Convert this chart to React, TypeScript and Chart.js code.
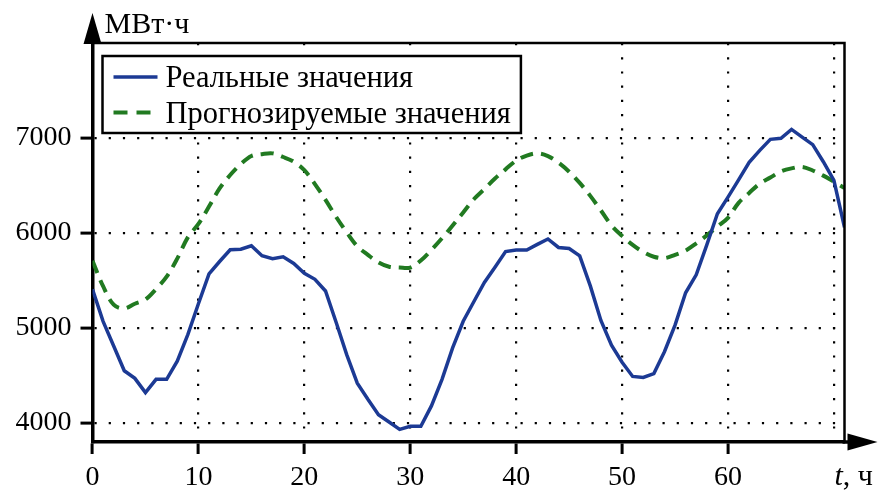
import React, { useEffect, useRef } from "react";
import { Chart, registerables } from "chart.js";

Chart.register(...registerables);

// Hours (x categories)
const hours = [
  0, 1, 2, 3, 4, 5, 6, 7, 8, 9, 10, 11, 12, 13, 14, 15, 16, 17, 18, 19, 20, 21, 22, 23,
  24, 25, 26, 27, 28, 29, 30, 31, 32, 33, 34, 35, 36, 37, 38, 39, 40, 41, 42, 43, 44, 45, 46, 47,
  48, 49, 50, 51, 52, 53, 54, 55, 56, 57, 58, 59, 60, 61, 62, 63, 64, 65, 66, 67, 68, 69, 70, 71,
];

// Real values, MWh
const realValues = [
  5407, 5070, 4810, 4550, 4470, 4320, 4460, 4460, 4650, 4930, 5255, 5570,
  5700, 5823, 5830, 5866, 5760, 5730, 5749, 5680, 5575, 5513, 5390, 5060,
  4720, 4420, 4250, 4088, 4010, 3933, 3965, 3965, 4180, 4460, 4790, 5071,
  5276, 5480, 5640, 5805, 5820, 5820, 5880, 5937, 5848, 5837, 5760, 5443,
  5080, 4820, 4640, 4490, 4480, 4520, 4750, 5030, 5371, 5560, 5875, 6202,
  6378, 6560, 6745, 6870, 6986, 6997, 7090, 7010, 6930, 6750, 6555, 6060,
];

// Forecast values, MWh
const forecastValues = [
  5707, 5440, 5245, 5205, 5255, 5300, 5410, 5540, 5730, 5954, 6095, 6278,
  6470, 6610, 6725, 6810, 6830, 6838, 6800, 6750, 6661, 6515, 6348, 6170,
  6007, 5860, 5770, 5690, 5645, 5636, 5636, 5710, 5822, 5945, 6078, 6216,
  6355, 6463, 6573, 6670, 6762, 6815, 6838, 6810, 6740, 6645, 6527, 6391,
  6237, 6080, 5970, 5875, 5800, 5750, 5735, 5770, 5815, 5890, 5975, 6068,
  6160, 6317, 6422, 6520, 6584, 6648, 6680, 6696, 6658, 6604, 6540, 6474,
];

const xTicks = [0, 10, 20, 30, 40, 50, 60, 70];
const yTicks = [4000, 5000, 6000, 7000];

const seriesLabels = ["Реальные значения", "Прогнозируемые значения"];
const yTitle = "МВт·ч";
const xTitleItalic = "t";
const xTitleRest = ", ч";

const FONT = "Liberation Serif";

const decorPlugin = {
  id: "decor",
  afterDraw(chart: any) {
    const { ctx, chartArea } = chart;
    const { left, right, top, bottom } = chartArea;
    ctx.save();
    ctx.setLineDash([]);
    // frame (top & right)
    ctx.strokeStyle = "#000";
    ctx.lineWidth = 2.5;
    ctx.beginPath();
    ctx.moveTo(left, top);
    ctx.lineTo(right, top);
    ctx.lineTo(right, bottom);
    ctx.stroke();

    // y arrow
    ctx.fillStyle = "#000";
    ctx.beginPath();
    ctx.moveTo(left - 9, top + 1);
    ctx.lineTo(left + 9, top + 1);
    ctx.lineTo(left, top - 30);
    ctx.closePath();
    ctx.fill();

    // x axis extension + arrow
    ctx.lineWidth = 3.5;
    ctx.beginPath();
    ctx.moveTo(right - 2, bottom);
    ctx.lineTo(right + 5, bottom);
    ctx.stroke();
    ctx.beginPath();
    ctx.moveTo(right + 3, bottom - 8.5);
    ctx.lineTo(right + 3, bottom + 8.5);
    ctx.lineTo(right + 33, bottom);
    ctx.closePath();
    ctx.fill();

    // axis titles
    ctx.textAlign = "left";
    ctx.textBaseline = "alphabetic";
    ctx.font = `30px "${FONT}"`;
    ctx.fillText(yTitle, left + 12, 33);

    ctx.font = `italic 30px "${FONT}"`;
    const tx = right - 10;
    ctx.fillText(xTitleItalic, tx, 485);
    const tw = ctx.measureText(xTitleItalic).width;
    ctx.font = `30px "${FONT}"`;
    ctx.fillText(xTitleRest, tx + tw, 485);

    // legend box
    const ds = chart.data.datasets;
    const x0 = left + 10;
    const y0 = top + 13;
    ctx.font = `30.5px "${FONT}"`;
    const textX = x0 + 63;
    let maxW = 0;
    ds.forEach((d: any) => {
      maxW = Math.max(maxW, ctx.measureText(d.label).width);
    });
    const w = textX - x0 + maxW + 10;
    const h = 77;
    ctx.fillStyle = "#fff";
    ctx.fillRect(x0, y0, w, h);
    ctx.lineWidth = 2.5;
    ctx.strokeStyle = "#000";
    ctx.strokeRect(x0, y0, w, h);
    ds.forEach((d: any, i: number) => {
      const cy = y0 + 21 + i * 35.5;
      ctx.strokeStyle = d.borderColor;
      ctx.lineWidth = d.borderWidth;
      ctx.setLineDash(d.borderDash && d.borderDash.length ? [14, 9] : []);
      ctx.beginPath();
      ctx.moveTo(x0 + 11, cy);
      ctx.lineTo(x0 + 55, cy);
      ctx.stroke();
      ctx.setLineDash([]);
      ctx.fillStyle = "#000";
      ctx.fillText(d.label, textX, cy + 10);
    });
    ctx.restore();
  },
};

function buildChart(canvas: HTMLCanvasElement) {
  return new Chart(canvas, {
    type: "line",
    data: {
      labels: hours,
      datasets: [
        {
          label: seriesLabels[0],
          data: hours.map((h, i) => ({ x: h, y: realValues[i] })),
          borderColor: "#1c3a94",
          borderWidth: 3.5,
          pointRadius: 0,
          tension: 0,
          fill: false,
        },
        {
          label: seriesLabels[1],
          data: hours.map((h, i) => ({ x: h, y: forecastValues[i] })),
          borderColor: "#217a21",
          borderWidth: 4,
          borderDash: [13, 8],
          pointRadius: 0,
          tension: 0.35,
          fill: false,
        },
      ],
    },
    plugins: [decorPlugin],
    options: {
      animation: false,
      responsive: false,
      devicePixelRatio: 1,
      layout: { padding: { top: 43, right: 34.5, left: 0, bottom: 0 } },
      plugins: {
        legend: { display: false },
        tooltip: { enabled: false },
        title: { display: false },
      },
      scales: {
        x: {
          type: "linear",
          min: 0,
          max: 71,
          afterBuildTicks: (s: any) => {
            s.ticks = xTicks.map((v) => ({ value: v }));
          },
          afterFit: (s: any) => {
            s.height = 51;
          },
          ticks: {
            color: "#000",
            font: { family: FONT, size: 28 },
            padding: 7,
            maxRotation: 0,
            autoSkip: false,
            callback: (v: any) => (v === 70 ? "" : String(v)),
          },
          grid: {
            color: (c: any) => (c.tick && c.tick.value === 0 ? "rgba(0,0,0,0)" : "#000"),
            lineWidth: 2.2,
            tickLength: 12,
            tickWidth: 3,
            tickColor: (c: any) => (c.tick && c.tick.value === 70 ? "rgba(0,0,0,0)" : "#000"),
            tickBorderDash: [],
          },
          border: { display: true, color: "#000", width: 3.5, dash: [2.2, 12] },
        },
        y: {
          type: "linear",
          min: 3800,
          max: 8000,
          afterBuildTicks: (s: any) => {
            s.ticks = yTicks.map((v) => ({ value: v }));
          },
          afterFit: (s: any) => {
            s.width = 92.5;
          },
          ticks: {
            color: "#000",
            font: { family: FONT, size: 28 },
            padding: 9,
            callback: (v: any) => String(v),
          },
          grid: {
            color: "#000",
            lineWidth: 2.2,
            tickLength: 12,
            tickWidth: 3,
            tickColor: "#000",
            tickBorderDash: [],
          },
          border: { display: true, color: "#000", width: 3.5, dash: [2.2, 12] },
        },
      },
    },
  } as any);
}

export default function App() {
  const ref = useRef<HTMLCanvasElement>(null);
  useEffect(() => {
    document.body.style.margin = "0";
    const canvas = ref.current!;
    let chart: any = null;
    let cancelled = false;
    const make = () => {
      if (cancelled || chart) return;
      chart = buildChart(canvas);
    };
    const fonts: any = (document as any).fonts;
    if (fonts && fonts.load) {
      Promise.all([
        fonts.load(`28px "${FONT}"`, "0123456789"),
        fonts.load(`30px "${FONT}"`, "Реальные значения МВт·ч"),
        fonts.load(`italic 30px "${FONT}"`, "t"),
      ])
        .catch(() => {})
        .then(make);
    } else {
      make();
    }
    return () => {
      cancelled = true;
      if (chart) chart.destroy();
    };
  }, []);
  return (
    <div style={{ width: 879, height: 493, position: "relative", background: "#fff" }}>
      <canvas ref={ref} width={879} height={493} style={{ display: "block" }} />
    </div>
  );
}
